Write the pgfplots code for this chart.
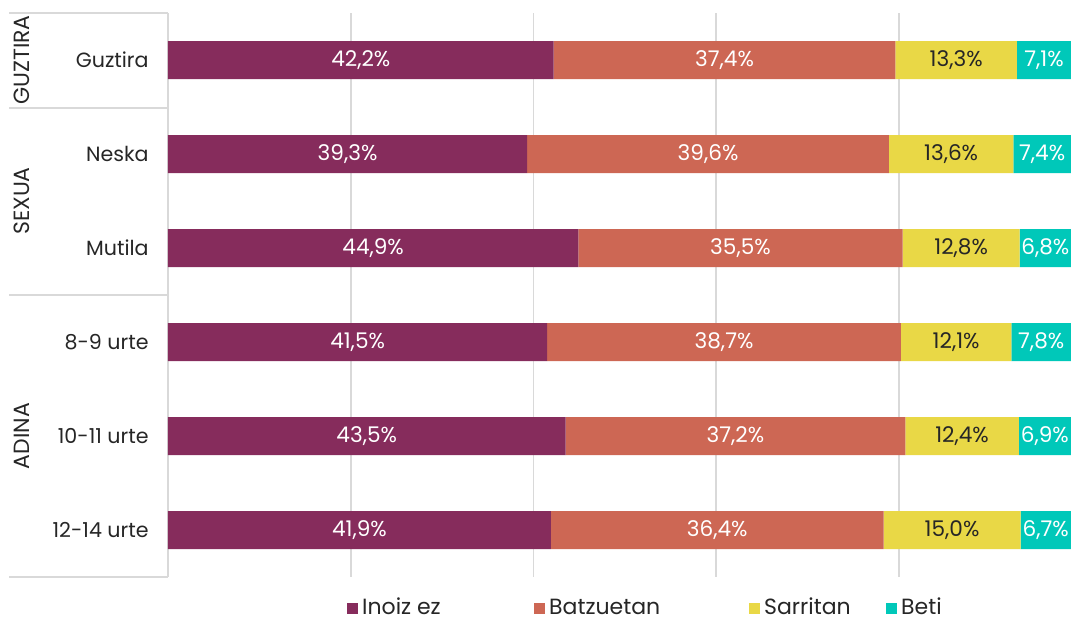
\documentclass[border=0pt]{standalone}
\usepackage{pgfplots}
\pgfplotsset{compat=1.18}
\usepackage{pgfplotstable}
\usepackage{fontspec}
\setmainfont{Poppins}

\definecolor{inoiz}{HTML}{862C5C}
\definecolor{batz}{HTML}{CD6754}
\definecolor{sarri}{HTML}{E9D846}
\definecolor{beti}{HTML}{00C8B9}
\definecolor{gridc}{HTML}{D9D9D9}
\definecolor{txt}{HTML}{262626}

% cat: 0 = Guztira ... 5 = 12-14 urte
\pgfplotstableread{
cat a    b    c    d
0   42.2 37.4 13.3 7.1
1   39.3 39.6 13.6 7.4
2   44.9 35.5 12.8 6.8
3   41.5 38.7 12.1 7.8
4   43.5 37.2 12.4 6.9
5   41.9 36.4 15.0 6.7
}\datatable

\pgfplotsset{
  base/.style={
    at={(84pt,22pt)}, anchor=south west,
    scale only axis, width=451.5pt, height=282pt,
    xmin=0, xmax=98.82, ymin=-0.5, ymax=5.5, y dir=reverse,
  },
  lbl/.style={draw=none, mark=none, nodes near coords, point meta=explicit,
    nodes near coords={\pgfmathprintnumber{\pgfplotspointmeta}\%},
    every node near coord/.append style={anchor=center, font=\fontsize{10.8}{12}\selectfont, text=#1},
  },
}

\begin{document}
\begin{tikzpicture}
\useasboundingbox (0,0) rectangle (535.5pt,310.5pt);
\begin{axis}[base,
  xbar stacked, bar width=19pt,
  axis lines*=left, x axis line style={draw=none},
  y axis line style={gridc, line width=1pt},
  xtick={20,40,60,80}, xticklabels={}, xmajorgrids,
  grid style={gridc, line width=0.8pt},
  ytick={0,...,5},
  yticklabels={Guztira, Neska, Mutila, 8-9 urte, 10-11 urte, 12-14 urte},
  major tick length=0pt,
  yticklabel style={anchor=east, inner sep=0pt, xshift=-9.5pt, text=txt, font=\fontsize{10.3}{12}\selectfont},
  legend columns=4,
  legend style={draw=none, at={(0.198,-0.055)}, anchor=west, inner sep=0pt,
    font=\fontsize{11}{12}\selectfont, text=txt, nodes={inner ysep=0pt},
    /tikz/every even column/.append style={column sep=0pt}},
  legend image code/.code={\fill[#1] (0pt,-2.75pt) rectangle (5.5pt,2.75pt);},
]
\addplot[fill=inoiz, draw=none] table[x=a, y=cat] {\datatable};
\addplot[fill=batz, draw=none] table[x=b, y=cat] {\datatable};
\addplot[fill=sarri, draw=none] table[x=c, y=cat] {\datatable};
\addplot[fill=beti, draw=none] table[x=d, y=cat] {\datatable};
\addlegendentry{\makebox[84pt][l]{\vphantom{Bd}Inoiz ez}}
\addlegendentry{\makebox[98pt][l]{\vphantom{Bd}Batzuetan}}
\addlegendentry{\makebox[59pt][l]{\vphantom{Bd}Sarritan}}
\addlegendentry{\vphantom{Bd}Beti}
\end{axis}
\begin{axis}[base, hide axis,
  /pgf/number format/.cd, fixed, fixed zerofill, precision=1, use comma, assume math mode=true]
\addplot[lbl=white] table[x expr=\thisrow{a}/2, y=cat, meta=a] {\datatable};
\addplot[lbl=white] table[x expr=\thisrow{a}+\thisrow{b}/2, y=cat, meta=b] {\datatable};
\addplot[lbl=txt] table[x expr=\thisrow{a}+\thisrow{b}+\thisrow{c}/2, y=cat, meta=c] {\datatable};
\addplot[lbl=white] table[x expr=(\thisrow{a}+\thisrow{b}+\thisrow{c}+98.82)/2, y=cat, meta=d] {\datatable};
\end{axis}
% group frame and labels
\foreach \yy in {304,256.5,163,22}
  \draw[gridc, line width=0.8pt] (4.5pt,\yy pt) -- (84pt,\yy pt);
\begin{scope}[every node/.style={rotate=90, inner sep=0pt, text=txt, font=\fontsize{11}{12}\selectfont}]
\node at (11pt,280.5pt) {GUZTIRA};
\node at (11pt,210pt) {SEXUA};
\node at (11pt,92.5pt) {ADINA};
\end{scope}
\end{tikzpicture}
\end{document}
